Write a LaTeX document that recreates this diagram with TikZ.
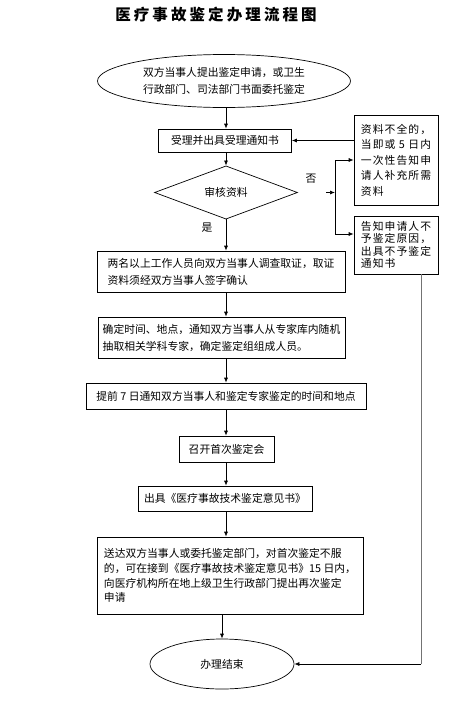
\documentclass[tikz,border=0pt]{standalone}
\usepackage{fontspec}
\setmainfont{Noto Sans CJK SC}
\newfontfamily\titlefont{Noto Sans CJK SC}[LetterSpace=20]
\newfontfamily\sidefont{Noto Sans CJK SC}[LetterSpace=10]
\usetikzlibrary{shapes.geometric,arrows.meta}

\begin{document}
\begin{tikzpicture}[x=1pt,y=-1pt,line width=0.7pt,
  box/.style={draw,rectangle,inner sep=0pt,align=left,font=\fontsize{10.8}{17}\selectfont},
  oval/.style={draw,ellipse,inner sep=0pt,align=left,font=\fontsize{10.8}{17}\selectfont},
  sidebox/.style={draw,rectangle,inner sep=0pt,align=left,minimum width=84},
  arr/.style={-{Latex[length=5pt,width=4pt]}}]
 \path[fill=white,use as bounding box] (0,0) rectangle (448,707);
 \node (title) at (216,15) {\titlefont\bfseries\fontsize{15.5}{16}\selectfont 医疗事故鉴定办理流程图};
  \node[oval,minimum width=253,minimum height=53] (apply) at (224,81) {双方当事人提出鉴定申请，或卫生\\行政部门、司法部门书面委托鉴定};
  \node[box,minimum width=133,minimum height=23] (accept) at (225,140.5) {受理并出具受理通知书};
  \node[draw,diamond,inner sep=0pt,minimum width=143,minimum height=49,font=\fontsize{10.8}{13}\selectfont] (check) at (226,192.5) {审核资料};
  \node[font=\fontsize{10.8}{13}\selectfont] (yes) at (207,228) {是};
  \node[font=\fontsize{10.8}{13}\selectfont] (no) at (311,179) {否};
  \node[box,minimum width=248,minimum height=41] (survey) at (221,271.5) {两名以上工作人员向双方当事人调查取证，取证\\资料须经双方当事人签字确认};
  \node[box,minimum width=247,minimum height=41] (expert) at (221.5,337.5) {确定时间、地点，通知双方当事人从专家库内随机\\抽取相关学科专家，确定鉴定组组成人员。};
  \node[box,minimum width=280,minimum height=26] (notice) at (226,396) {提前 7 日通知双方当事人和鉴定专家鉴定的时间和地点};
  \node[box,minimum width=95,minimum height=26] (meeting) at (226.5,449) {召开首次鉴定会};
  \node[box,minimum width=174,minimum height=25] (report) at (225,498.5) {出具《医疗事故技术鉴定意见书》};
  \node[box,minimum width=266,minimum height=77,font=\fontsize{10.8}{14.7}\selectfont] (deliver) at (230,575.5) {送达双方当事人或委托鉴定部门，对首次鉴定不服\\的，可在接到《医疗事故技术鉴定意见书》15 日内，\\向医疗机构所在地上级卫生行政部门提出再次鉴定\\申请};
  \node[oval,minimum width=144,minimum height=50] (finish) at (222,664) {办理结束};
  \node[sidebox,minimum height=90,font=\sidefont\fontsize{10.8}{15.5}\selectfont] (supply) at (396,160) {资料不全的，\\当即或 5 日内\\一次性告知申\\请人补充所需\\资料};
  \node[sidebox,minimum height=58,font=\sidefont\fontsize{10.8}{12.5}\selectfont] (refuse) at (396,245) {告知申请人不\\予鉴定原因，\\出具不予鉴定\\通知书};

  \coordinate (axis) at (226,0);
  \coordinate (nofrom) at (326,192.5);
  \coordinate (fork) at (335,192.5);
  \coordinate (forktop) at (335,160);
  \coordinate (forkbot) at (335,234);
  \coordinate (turn) at (421,664);

  \draw[arr] (axis |- apply.south) -- (axis |- accept.north);
  \draw[arr] (axis |- accept.south) -- (check.north);
  \draw[arr] (check.south) -- (axis |- survey.north);
  \draw[arr] (axis |- survey.south) -- (axis |- expert.north);
  \draw[arr] (axis |- expert.south) -- (axis |- notice.north);
  \draw[arr] (axis |- notice.south) -- (axis |- meeting.north);
  \draw[arr] (axis |- meeting.south) -- (axis |- report.north);
  \draw[arr] (axis |- report.south) -- (axis |- deliver.north);
  \draw[arr] (finish.north |- deliver.south) -- (finish.north);

  %% branch for 否
  \draw[arr] (nofrom) -- (fork);
  \draw (forktop) -- (forkbot);
  \draw[arr] (forktop) -- (supply.west);
  \draw[arr] (forkbot) -- (forkbot -| refuse.west);
  \draw[arr] (supply.west |- accept.east) -- (accept.east);
  \draw[black!55] (refuse.south -| turn) -- (turn);
  \draw[arr] (turn) -- (finish.east);
\end{tikzpicture}
\end{document}
